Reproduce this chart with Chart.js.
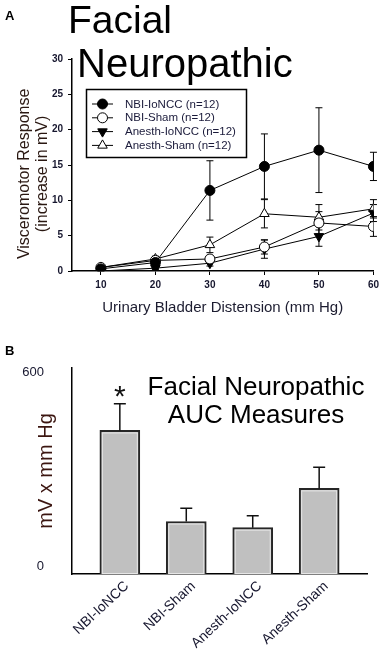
<!DOCTYPE html>
<html>
<head>
<meta charset="utf-8">
<script src="https://cdn.jsdelivr.net/npm/chart.js@4"></script>
<style>
  body { margin: 0; background: #fff; }
  .wrap { position: relative; width: 383px; height: 652px; overflow: hidden; font-family: "Liberation Sans", Arial, sans-serif; }
  canvas { position: absolute; left: 0; }
  .txt { position: absolute; white-space: nowrap; line-height: 1; color: #000; }
</style>
</head>
<body>
<div class="wrap">
  <canvas id="chartA" width="383" height="330" style="top:0"></canvas>
  <canvas id="chartB" width="383" height="322" style="top:330px"></canvas>
  <div class="txt" style="left:5px;top:9px;font-size:13px;font-weight:bold">A</div>
  <div class="txt" style="left:68px;top:0px;font-size:39px">Facial</div>
  <div class="txt" style="left:77px;top:43px;font-size:40px">Neuropathic</div>
  <div class="txt" style="left:5px;top:344px;font-size:13px;font-weight:bold">B</div>
  <div class="txt" style="left:145px;top:372px;width:222px;font-size:26px;line-height:28px;text-align:center">Facial Neuropathic<br>AUC Measures</div>
</div>
<script>
// panel A data
const pressures = [10, 20, 30, 40, 50, 60];
const responseTicks = [0, 5, 10, 15, 20, 25, 30];
const nbiIoncc = [0.3, 1.2, 11.4, 14.8, 17.1, 14.8];
const nbiIonccErr = [0.2, 0.3, 4.2, 4.6, 6.0, 2.0];
const nbiSham = [0.5, 1.5, 1.7, 3.4, 6.8, 6.3];
const nbiShamErr = [0.2, 0.3, 0.5, 1.0, 1.6, 1.4];
const anesthIoncc = [0.0, 0.4, 1.1, 3.1, 4.9, 8.2];
const anesthIonccErr = [0.2, 0.2, 0.4, 1.3, 1.4, 1.2];
const anesthSham = [0.5, 1.7, 3.7, 8.1, 7.6, 8.8];
const anesthShamErr = [0.2, 0.4, 1.1, 2.0, 1.8, 1.3];

// panel B data
const groups = ["NBI-IoNCC", "NBI-Sham", "Anesth-IoNCC", "Anesth-Sham"];
const aucMeans = [446, 163, 144, 266];
const aucErr = [83, 41, 37, 66];
const aucTicks = [0, 600];

const family = "Liberation Sans";
const tickColor = "#16162e";

const toPoints = (vals) => pressures.map((p, i) => ({ x: p, y: vals[i] }));

const series = function (label, vals, errs, style, fill, rotation) {
  return {
    label: label,
    data: toPoints(vals),
    errors: errs,
    borderColor: "#000",
    borderWidth: 1,
    pointStyle: style,
    pointRotation: rotation || 0,
    pointRadius: style == "triangle" ? 5.5 : 5,
    pointBorderWidth: 1,
    pointBackgroundColor: fill,
    pointBorderColor: "#000",
  };
};

const lineErrors = {
  id: "lineErrors",
  beforeDatasetsDraw(chart) {
    const { ctx } = chart;
    const x = chart.scales.x, y = chart.scales.y;
    ctx.save();
    ctx.strokeStyle = "#000";
    ctx.lineWidth = 1;
    chart.data.datasets.forEach((ds) => {
      ds.data.forEach((pt, i) => {
        const px = x.getPixelForValue(pt.x);
        const t = y.getPixelForValue(pt.y + ds.errors[i]);
        const b = y.getPixelForValue(Math.max(pt.y - ds.errors[i], 0));
        ctx.beginPath();
        ctx.moveTo(px, t); ctx.lineTo(px, b);
        ctx.moveTo(px - 3.5, t); ctx.lineTo(px + 3.5, t);
        ctx.moveTo(px - 3.5, b); ctx.lineTo(px + 3.5, b);
        ctx.stroke();
      });
    });
    ctx.restore();
  },
};

// boxed legend inside the plot, like the original figure
const boxLegend = {
  id: "boxLegend",
  afterDraw(chart) {
    const { ctx } = chart;
    ctx.save();
    ctx.strokeStyle = "#000";
    ctx.lineWidth = 1.5;
    ctx.strokeRect(86.5, 89.5, 160, 68);
    ctx.font = "11.5px " + family;
    ctx.textBaseline = "middle";
    chart.data.datasets.forEach((ds, i) => {
      const yy = 104 + i * 13.8;
      ctx.lineWidth = 1;
      ctx.strokeStyle = "#000";
      ctx.beginPath();
      ctx.moveTo(92, yy); ctx.lineTo(113, yy);
      ctx.stroke();
      ctx.fillStyle = ds.pointBackgroundColor;
      Chart.helpers.drawPoint(ctx, {
        pointStyle: ds.pointStyle,
        rotation: ds.pointRotation,
        radius: ds.pointRadius,
        borderWidth: 1,
      }, 102.5, yy);
      ctx.fillStyle = "#1a1a3a";
      ctx.fillText(ds.label, 125, yy + 0.5);
    });
    ctx.restore();
  },
};

new Chart(document.getElementById("chartA"), {
  type: "line",
  data: {
    datasets: [
      series("NBI-IoNCC (n=12)", nbiIoncc, nbiIonccErr, "circle", "#000"),
      series("NBI-Sham (n=12)", nbiSham, nbiShamErr, "circle", "#fff"),
      series("Anesth-IoNCC (n=12)", anesthIoncc, anesthIonccErr, "triangle", "#000", 180),
      series("Anesth-Sham (n=12)", anesthSham, anesthShamErr, "triangle", "#fff"),
    ],
  },
  options: {
    responsive: false,
    animation: false,
    layout: { padding: { top: 59, right: 9, left: 0, bottom: 0 } },
    plugins: { legend: { display: false }, tooltip: { enabled: false } },
    scales: {
      x: {
        type: "linear",
        min: 4.7,
        max: 60,
        afterBuildTicks: (ax) => { ax.ticks = pressures.map((v) => ({ value: v })); },
        afterFit: (ax) => { ax.height = 59; },
        grid: { drawOnChartArea: false, tickLength: 4, color: "#000" },
        border: { color: "#000", width: 1.5 },
        ticks: { color: tickColor, font: { family: family, size: 10, weight: "bold" }, padding: 4, maxRotation: 0 },
        title: {
          display: true,
          text: "Urinary Bladder Distension (mm Hg)",
          color: "#1c1c30",
          font: { family: family, size: 15 },
          padding: { top: 0, bottom: 13 },
        },
      },
      y: {
        min: 0,
        max: 30,
        afterBuildTicks: (ax) => { ax.ticks = responseTicks.map((v) => ({ value: v })); },
        afterFit: (ax) => { ax.width = 72; },
        grid: { drawOnChartArea: false, tickLength: 4, color: "#000" },
        border: { color: "#000", width: 1.5 },
        ticks: { color: tickColor, font: { family: family, size: 10, weight: "bold" }, padding: 5 },
        title: {
          display: true,
          // trailing spaces push the rotated title a little lower, as in the figure
          text: ["Visceromotor Response    ", "(increase in mV)    "],
          color: "#2a1812",
          font: { family: family, size: 16, lineHeight: 1.1 },
          padding: { top: 16, bottom: 0 },
        },
      },
    },
  },
  plugins: [lineErrors, boxLegend],
});

const barErrors = {
  id: "barErrors",
  afterDatasetsDraw(chart) {
    const { ctx } = chart;
    const x = chart.scales.x, y = chart.scales.y;
    ctx.save();
    // light inner edge on each bar
    ctx.strokeStyle = "#e6e6e6";
    ctx.lineWidth = 1;
    chart.getDatasetMeta(0).data.forEach((bar) => {
      const w = bar.width;
      ctx.strokeRect(bar.x - w / 2 + 2.5, bar.y + 2.5, w - 5, bar.base - bar.y - 3);
    });
    ctx.strokeStyle = "#111";
    ctx.lineWidth = 1.5;
    aucMeans.forEach((m, i) => {
      const px = x.getPixelForValue(i + 1);
      const t = y.getPixelForValue(m + aucErr[i]);
      const b = y.getPixelForValue(m);
      ctx.beginPath();
      ctx.moveTo(px, b); ctx.lineTo(px, t);
      ctx.moveTo(px - 6, t); ctx.lineTo(px + 6, t);
      ctx.stroke();
    });
    // significance mark over the first group
    ctx.fillStyle = "#111";
    ctx.font = "30px " + family;
    ctx.textAlign = "center";
    ctx.textBaseline = "alphabetic";
    ctx.fillText("*", x.getPixelForValue(1), y.getPixelForValue(aucMeans[0] + aucErr[0]) + 2);
    ctx.restore();
  },
};

new Chart(document.getElementById("chartB"), {
  type: "bar",
  data: {
    datasets: [
      {
        data: aucMeans.map((v, i) => ({ x: i + 1, y: v })),
        backgroundColor: "#c0c0c0",
        borderColor: "#262626",
        borderWidth: 2,
        barThickness: 40,
      },
    ],
  },
  options: {
    responsive: false,
    animation: false,
    layout: { padding: { top: 38, right: 16, left: 0, bottom: 0 } },
    plugins: { legend: { display: false }, tooltip: { enabled: false } },
    scales: {
      x: {
        type: "linear",
        offset: false,
        min: 0.28,
        max: 4.72,
        afterBuildTicks: (ax) => { ax.ticks = groups.map((g, i) => ({ value: i + 1 })); },
        afterFit: (ax) => { ax.height = 78; },
        grid: { display: false, offset: false },
        border: { color: "#000", width: 1.5 },
        ticks: {
          color: tickColor,
          font: { family: family, size: 14 },
          padding: -4,
          labelOffset: 7,
          autoSkip: false,
          minRotation: 43,
          maxRotation: 43,
          callback: (v) => groups[v - 1],
        },
      },
      y: {
        min: 0,
        max: 640,
        afterBuildTicks: (ax) => { ax.ticks = aucTicks.map((v) => ({ value: v })); },
        afterFit: (ax) => { ax.width = 72; },
        grid: { display: false },
        border: { color: "#000", width: 1.5 },
        ticks: { color: tickColor, font: { family: family, size: 13 }, padding: 20, labelOffset: -8 },
        title: {
          display: true,
          text: "mV x mm Hg",
          color: "#3b1510",
          font: { family: family, size: 20 },
          padding: { top: 34, bottom: 0 },
        },
      },
    },
  },
  plugins: [barErrors],
});
</script>
</body>
</html>
